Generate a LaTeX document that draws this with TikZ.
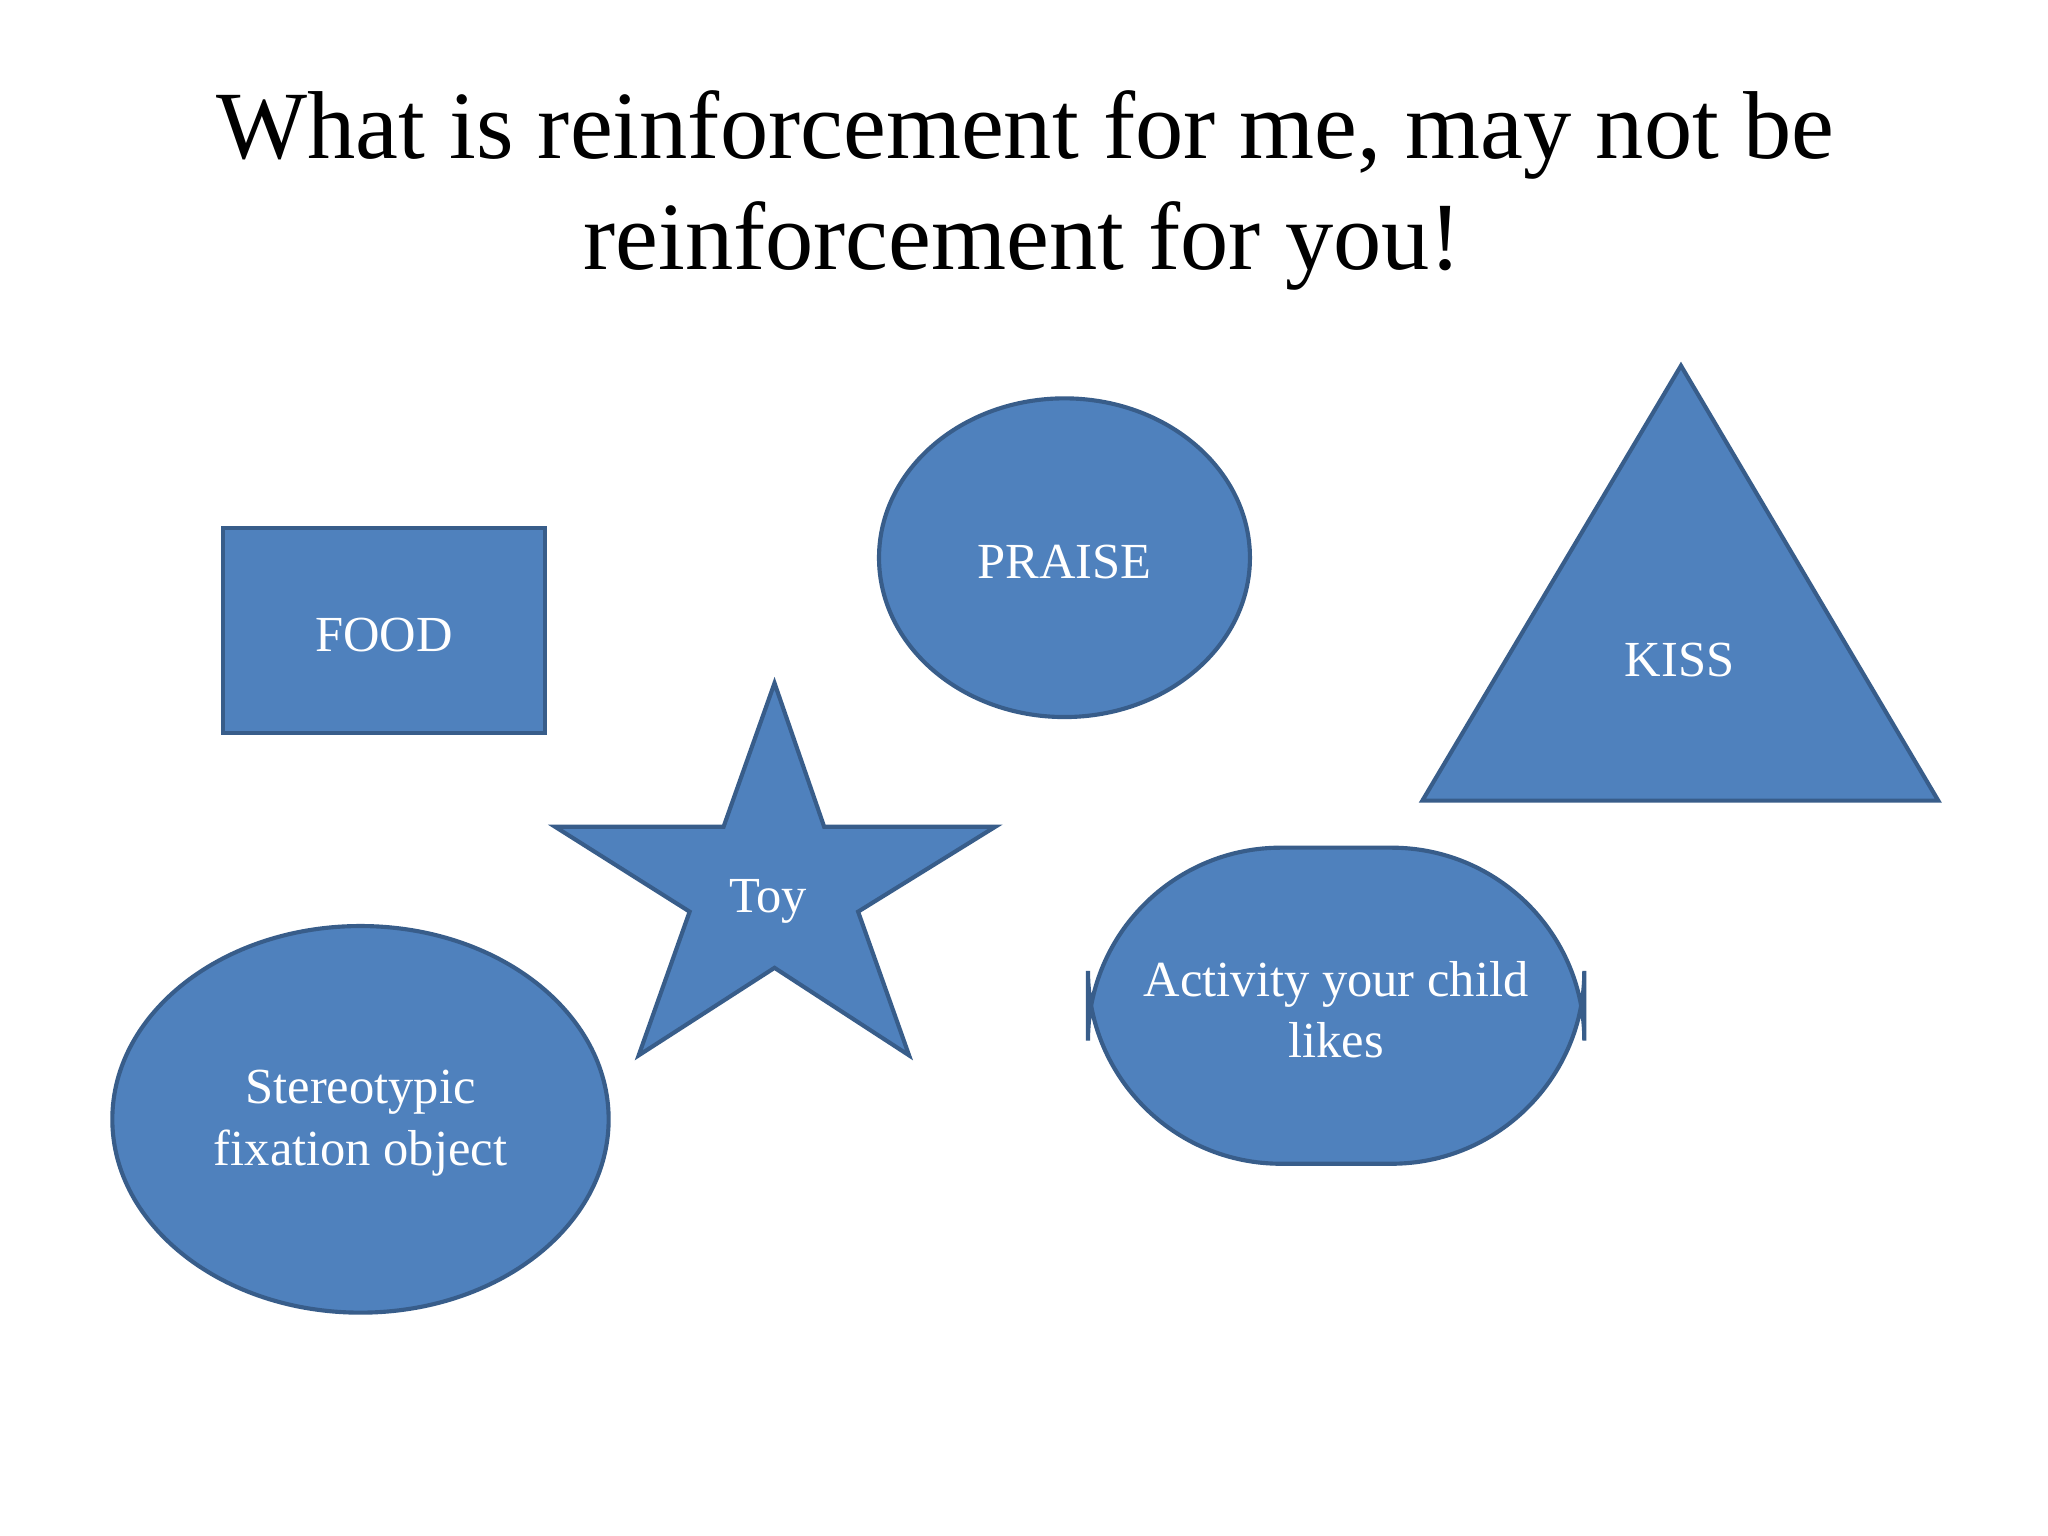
\documentclass[tikz,border=0pt]{standalone}
\usepackage{fontspec}
\setmainfont{Liberation Serif}
\usetikzlibrary{shapes.geometric}
\definecolor{sfill}{HTML}{4F81BD}
\definecolor{sline}{HTML}{385D8A}
\begin{document}
\begin{tikzpicture}[x=0.01cm,y=-0.01cm,
  shp/.style={fill=sfill,draw=sline,line width=0.9pt},
  lbl/.style={text=white,font=\fontsize{11}{13.4}\selectfont,align=center}]
\useasboundingbox[fill=white] (0,0) rectangle (1568,1176);
\node (t1) at (785,103) {\fontsize{21}{24}\selectfont What is reinforcement for me, may not be};
\node (t2) at (783,188) {\fontsize{21}{24}\selectfont reinforcement for you!};
\draw[shp] (171,404) rectangle (417,561);
\node[lbl] (food) at (294,486) {FOOD};
\draw[shp] (815,427) ellipse [x radius=142,y radius=122];
\node[lbl] (praise) at (815,430) {PRAISE};
\draw[shp] (1287,280) -- (1484,613) -- (1089,613) -- cycle;
\node[lbl] (kiss) at (1286,505) {KISS};
\draw[shp] (593,523) -- (631,633) -- (762,633) -- (657,698) -- (696,808) -- (593,741) -- (489,808) -- (528,698) -- (425,633) -- (554,633) -- cycle;
\node[lbl] (toy) at (588,690) {Toy};
\draw[shp,rounded corners=42] (833,649) rectangle (1213,891);
\node[lbl] (act) at (1023,773) {Activity your child\\likes};
\draw[shp] (276,857) ellipse [x radius=190,y radius=148];
\node[lbl] (ster) at (276,860) {Stereotypic\\fixation object};
\end{tikzpicture}
\end{document}
